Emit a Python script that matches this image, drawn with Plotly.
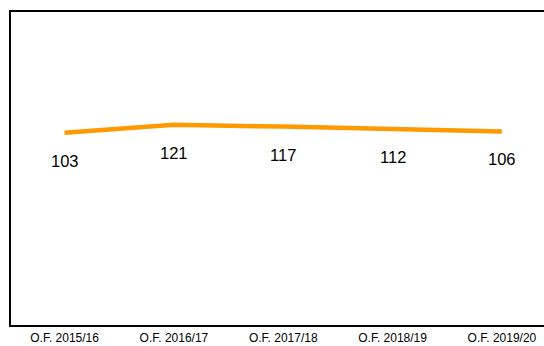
import plotly.graph_objects as go

# Academic years and values
years = ["O.F. 2015/16", "O.F. 2016/17", "O.F. 2017/18", "O.F. 2018/19", "O.F. 2019/20"]
values = [103, 121, 117, 112, 106]

fig = go.Figure()
fig.add_trace(go.Scatter(
    x=years, y=values, mode="lines",
    line=dict(color="#FF9900", width=4.5),
    hoverinfo="skip", showlegend=False,
))

# value labels under each point
for yr, v in zip(years, values):
    fig.add_annotation(
        x=yr, y=v, text=str(v), showarrow=False,
        yshift=-28, font=dict(family="Liberation Sans, Arial", size=16.5, color="#000000"),
    )

fig.update_layout(
    width=544, height=346,
    margin=dict(l=11, r=0, t=12, b=21),
    paper_bgcolor="white", plot_bgcolor="white",
    font=dict(family="Liberation Sans, Arial", color="#000000"),
    xaxis=dict(
        type="category", range=[-0.49, 4.385], automargin=False,
        showgrid=False, zeroline=False,
        showline=True, mirror=True, linecolor="#000000", linewidth=2,
        ticks="", tickfont=dict(size=12), ticklabelstandoff=1,
    ),
    yaxis=dict(
        range=[-333, 377], showgrid=False, zeroline=False, automargin=False,
        showline=True, linecolor="#000000", linewidth=2,
        showticklabels=False, ticks="",
    ),
)

fig.write_html("out.html")
